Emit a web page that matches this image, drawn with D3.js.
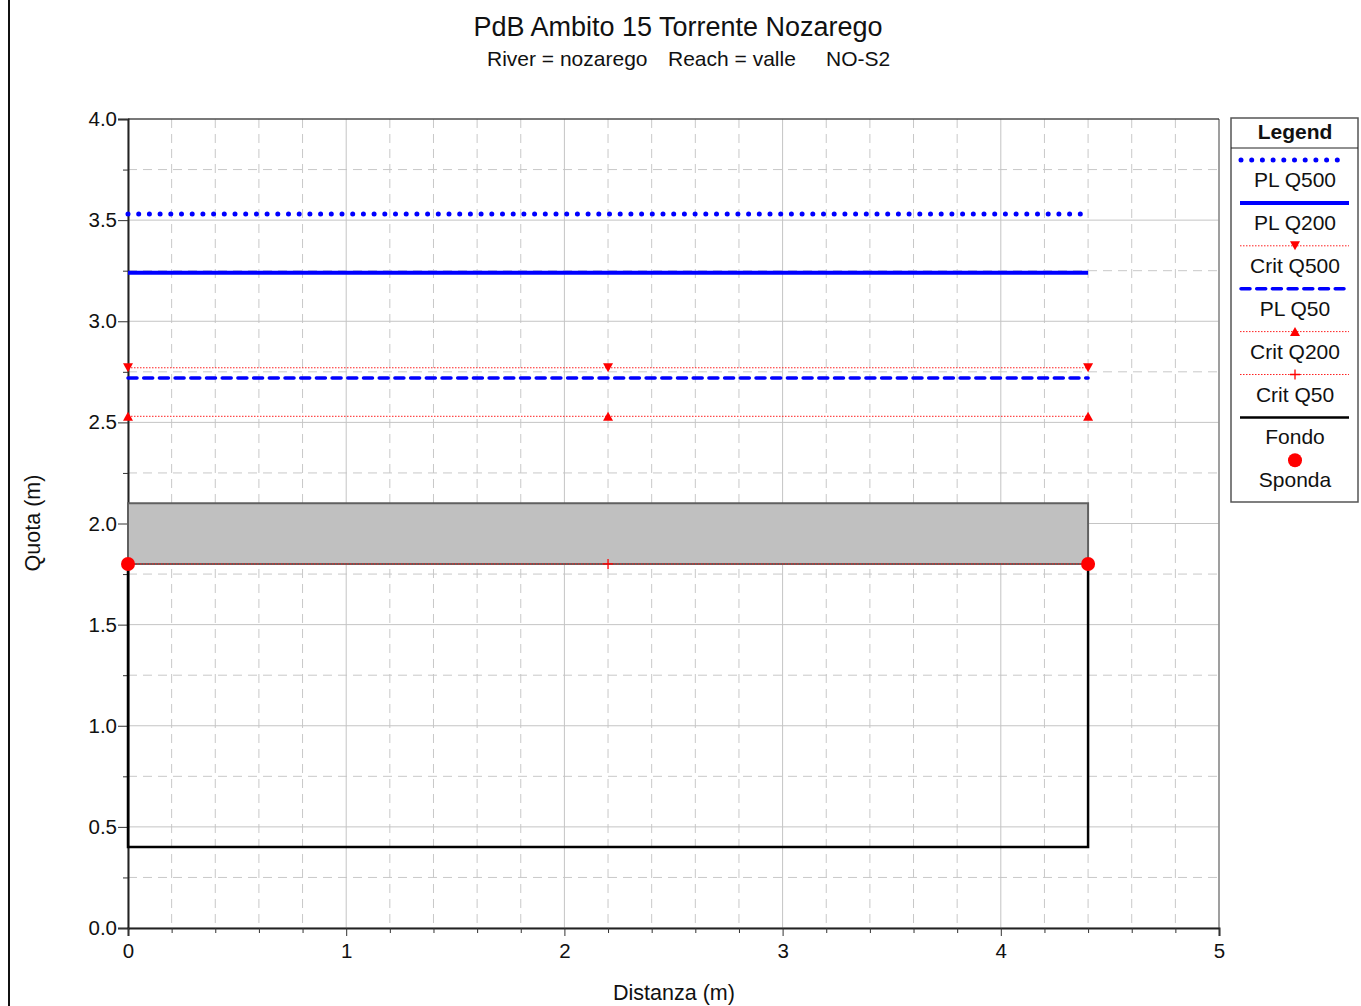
<!DOCTYPE html>
<html><head><meta charset="utf-8">
<script src="https://cdn.jsdelivr.net/npm/d3@7"></script>
<style>body{margin:0;background:#fff}svg{display:block;font-family:"Liberation Sans",Arial,sans-serif}</style>
</head><body>
<script>
const titleText = "PdB Ambito 15 Torrente Nozarego";
const subtitleParts = ["River = nozarego", "Reach = valle", "NO-S2"];
const xLabel = "Distanza (m)", yLabel = "Quota (m)";
const xTicks = [0,1,2,3,4,5];
const yTicks = [0.0,0.5,1.0,1.5,2.0,2.5,3.0,3.5,4.0];
const stations = [0, 2.2, 4.4];
const plQ500 = [3.53, 3.53, 3.53];
const plQ200 = [3.24, 3.24, 3.24];
const critQ500 = [2.77, 2.77, 2.77];
const plQ50 = [2.72, 2.72, 2.72];
const critQ200 = [2.53, 2.53, 2.53];
const critQ50 = [1.80, 1.80, 1.80];
const fondoX = [0, 0, 4.4, 4.4];
const fondoY = [1.80, 0.40, 0.40, 1.80];
const deckX = [0, 4.4, 4.4, 0];
const deckY = [1.80, 1.80, 2.10, 2.10];
const spondaX = [0, 4.4];
const spondaY = [1.80, 1.80];
const legendLabels = ["PL Q500","PL Q200","Crit Q500","PL Q50","Crit Q200","Crit Q50","Fondo","Sponda"];

const W=1361,H=1006;
const svg=d3.select("body").append("svg").attr("width",W).attr("height",H);
const L=128,R=1219,T=119,B=928;
const x=d3.scaleLinear().domain([0,5]).range([L,R]);
const y=d3.scaleLinear().domain([0,4]).range([B,T]);

svg.append("line").attr("x1",9).attr("x2",9).attr("y1",0).attr("y2",H).attr("stroke","#111").attr("stroke-width",2);

const g=svg.append("g");
const xMinorVals=d3.range(0.2,5,0.2).filter(v=>Math.abs(v-Math.round(v))>1e-6);
const yMinorVals=d3.range(0.25,4,0.5);
xMinorVals.forEach(v=>{
  g.append("line").attr("x1",x(v)).attr("x2",x(v)).attr("y1",T).attr("y2",B).attr("stroke","#c8c8c8").attr("stroke-dasharray","9,6");
});
yMinorVals.forEach(v=>{
  g.append("line").attr("x1",L).attr("x2",R).attr("y1",y(v)).attr("y2",y(v)).attr("stroke","#c8c8c8").attr("stroke-dasharray","9,6");
});
xTicks.forEach(v=>g.append("line").attr("x1",x(v)).attr("x2",x(v)).attr("y1",T).attr("y2",B).attr("stroke","#c4c4c4"));
yTicks.forEach(v=>g.append("line").attr("x1",L).attr("x2",R).attr("y1",y(v)).attr("y2",y(v)).attr("stroke","#c4c4c4"));
g.append("line").attr("x1",R).attr("x2",R).attr("y1",T).attr("y2",B).attr("stroke","#888").attr("stroke-width",1.5);
g.append("line").attr("x1",L).attr("x2",R).attr("y1",T).attr("y2",T).attr("stroke","#111");

const yAx=d3.axisLeft(y).tickValues(yTicks).tickFormat(d3.format(".1f")).tickSize(10).tickPadding(1);
const ya=svg.append("g").attr("transform",`translate(${L},0)`).call(yAx);
const yMin=d3.axisLeft(y).tickValues(yMinorVals).tickFormat("").tickSize(5);
svg.append("g").attr("transform",`translate(${L},0)`).call(yMin).select(".domain").remove();
const xAx=d3.axisBottom(x).tickValues(xTicks).tickFormat(d3.format("d")).tickSize(8).tickPadding(7);
const xa=svg.append("g").attr("transform",`translate(0,${B})`).call(xAx);
const xMin=d3.axisBottom(x).tickValues(xMinorVals).tickFormat("").tickSize(5);
svg.append("g").attr("transform",`translate(0,${B})`).call(xMin).select(".domain").remove();
[ya,xa].forEach(a=>{a.attr("font-family",null).attr("font-size",null);
  a.selectAll("text").attr("font-size",20.5).attr("fill","#111");
  a.select(".domain").attr("stroke","#222").attr("stroke-width",2);});
svg.selectAll(".tick line").attr("stroke","#333");

const pts=(xs,ys)=>xs.map((v,i)=>[x(v),y(ys[i])]);
svg.append("path").attr("d",d3.line()(pts(deckX,deckY))+"Z").attr("fill","#c0c0c0").attr("stroke","#606060").attr("stroke-width",2);
svg.append("path").attr("d",d3.line()(pts(fondoX,fondoY))).attr("fill","none").attr("stroke","#000").attr("stroke-width",2.5);

const line=d3.line().x((d,i)=>x(stations[i])).y(d=>y(d));
const tri=(sx,sy,down,s)=>{const h=s*0.9;return down?`M${sx-s/2},${sy-h/2}L${sx+s/2},${sy-h/2}L${sx},${sy+h/2}Z`:`M${sx-s/2},${sy+h/2}L${sx+s/2},${sy+h/2}L${sx},${sy-h/2}Z`;};

function drawMarker(sel,mx,my,m){
  if(m==="down"||m==="up") sel.append("path").attr("d",tri(mx,my,m==="down",10)).attr("fill","#ff0000");
  else if(m==="plus") sel.append("path").attr("d",`M${mx-5},${my}L${mx+5},${my}M${mx},${my-5}L${mx},${my+5}`).attr("stroke","#ff0000").attr("stroke-width",1.3);
}
function critLine(data,marker){
  svg.append("path").attr("d",line(data)).attr("fill","none").attr("stroke","#ff2020").attr("stroke-width",1).attr("stroke-dasharray","1.5,1.5");
  data.forEach((d,i)=>drawMarker(svg,x(stations[i]),y(d),marker));
}
critLine(critQ50,"plus");
critLine(critQ200,"up");
critLine(critQ500,"down");
svg.append("path").attr("d",line(plQ50)).attr("fill","none").attr("stroke","#0000ff").attr("stroke-width",3.5).attr("stroke-dasharray","9,6.7").attr("stroke-linecap","round");
svg.append("path").attr("d",line(plQ200)).attr("fill","none").attr("stroke","#0000ff").attr("stroke-width",4);
svg.append("path").attr("d",line(plQ500)).attr("fill","none").attr("stroke","#0000ff").attr("stroke-width",5).attr("stroke-dasharray","0,10.7").attr("stroke-linecap","round");
spondaX.forEach((v,i)=>svg.append("circle").attr("cx",x(v)).attr("cy",y(spondaY[i])).attr("r",7).attr("fill","#ff0000"));

svg.append("text").attr("x",678).attr("y",36).attr("text-anchor","middle").attr("font-size",27).attr("fill","#111").text(titleText);
const subX=[487,668,826];
subtitleParts.forEach((t,i)=>svg.append("text").attr("x",subX[i]).attr("y",66).attr("font-size",21).attr("fill","#111").text(t));
svg.append("text").attr("x",674).attr("y",1000).attr("text-anchor","middle").attr("font-size",21.5).attr("fill","#111").text(xLabel);
svg.append("text").attr("transform","translate(40,523) rotate(-90)").attr("text-anchor","middle").attr("font-size",21.5).attr("fill","#111").text(yLabel);

const lg=svg.append("g");
const lx0=1231,lx1=1358,ly0=118,ly1=502;
lg.append("rect").attr("x",lx0).attr("y",ly0).attr("width",lx1-lx0).attr("height",ly1-ly0).attr("fill","#fff").attr("stroke","#555").attr("stroke-width",1.5);
lg.append("line").attr("x1",lx0).attr("x2",lx1).attr("y1",148).attr("y2",148).attr("stroke","#222");
lg.append("text").attr("x",1295).attr("y",139).attr("text-anchor","middle").attr("font-size",21).attr("font-weight","bold").attr("fill","#111").text("Legend");
const sx0=1240,sx1=1349,cx=1295;
const styles=[
 {stroke:"#0000ff",w:5,dash:"0,10.7",cap:"round"},
 {stroke:"#0000ff",w:4},
 {stroke:"#ff2020",w:1,dash:"1.5,1.5",m:"down"},
 {stroke:"#0000ff",w:3.5,dash:"9,6.7",cap:"round"},
 {stroke:"#ff2020",w:1,dash:"1.5,1.5",m:"up"},
 {stroke:"#ff2020",w:1,dash:"1.5,1.5",m:"plus"},
 {stroke:"#000",w:2.5},
 {circle:true}
];
legendLabels.forEach((lab,i)=>{
  const ly=160+i*42.9;
  const s=styles[i];
  if(s.circle){lg.append("circle").attr("cx",cx).attr("cy",ly).attr("r",7).attr("fill","#ff0000");}
  else{
    lg.append("line").attr("x1",s.cap?sx0+1:sx0).attr("x2",s.cap?sx1-5:sx1).attr("y1",ly).attr("y2",ly).attr("stroke",s.stroke).attr("stroke-width",s.w).attr("stroke-dasharray",s.dash||null).attr("stroke-linecap",s.cap||"butt");
    if(s.m) drawMarker(lg,cx,ly,s.m);
  }
  lg.append("text").attr("x",cx).attr("y",ly+27).attr("text-anchor","middle").attr("font-size",21).attr("fill","#111").text(lab);
});
</script>
</body></html>
